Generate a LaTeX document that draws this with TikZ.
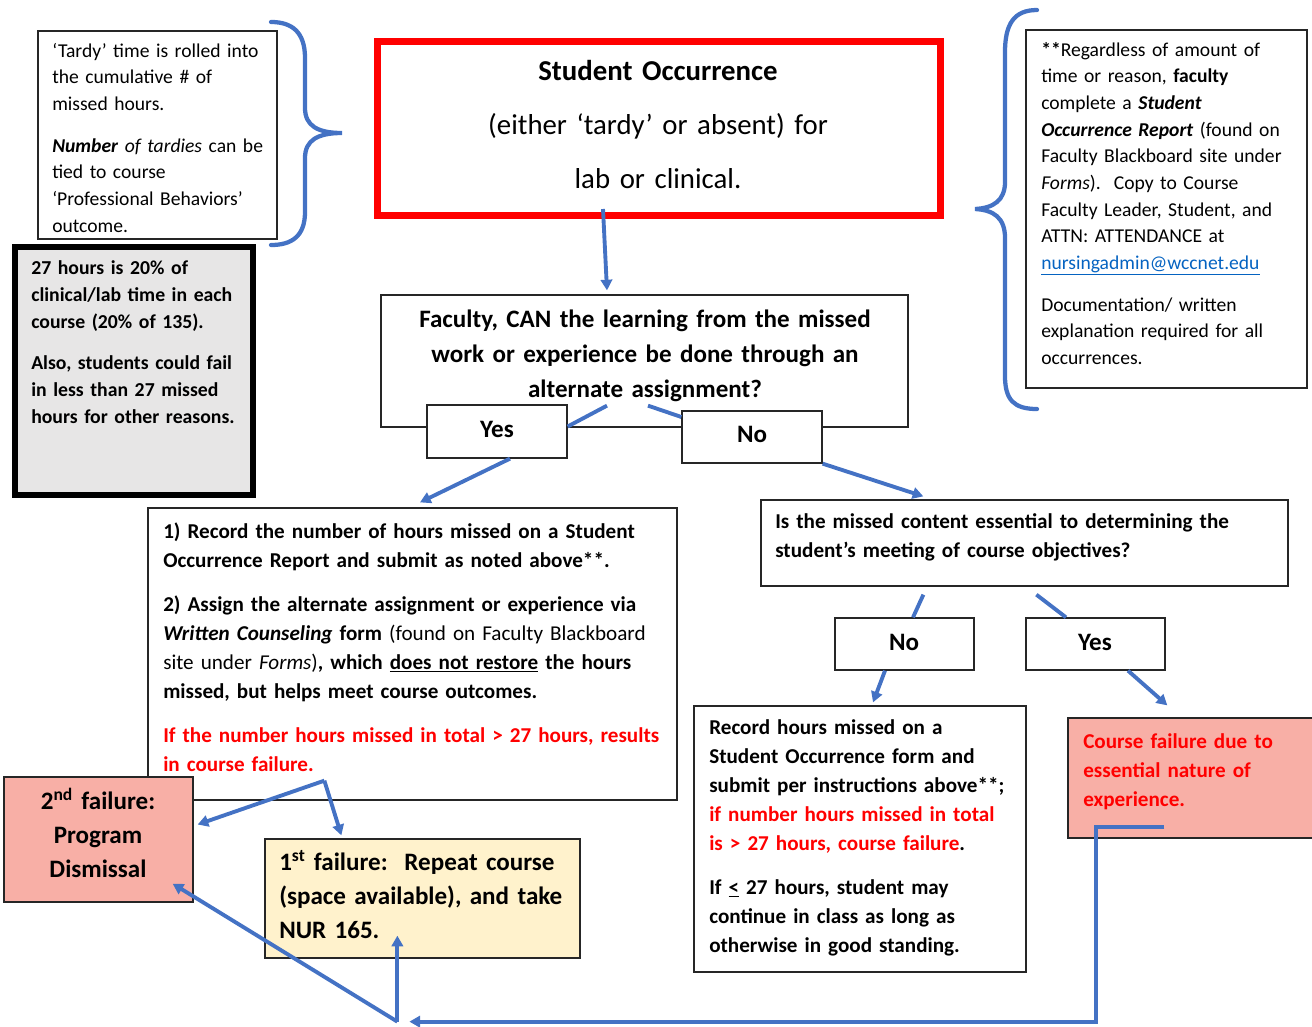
\documentclass[tikz,border=0pt]{standalone}
\usepackage{fontspec}
\setmainfont{Carlito}
\usetikzlibrary{arrows.meta,fit,calc}
\definecolor{arrowblue}{HTML}{4472C4}
\definecolor{salmon}{HTML}{F8AFA6}
\definecolor{paleyellow}{HTML}{FFF2CC}
\definecolor{panelgray}{HTML}{E7E6E6}
\definecolor{linkblue}{HTML}{0563C1}
\definecolor{alertred}{HTML}{FF0000}
\definecolor{edgegray}{HTML}{262626}
\begin{document}
\begin{tikzpicture}[x=0.75pt,y=-0.75pt,
  box/.style={draw=edgegray, line width=0.95pt, inner sep=0pt},
  ltxt/.style={inner sep=0pt, align=left, anchor=base west, text width=#1},
  ctxt/.style={inner sep=0pt, align=center, anchor=base, text width=#1},
  fsmall/.style={font=\fontsize{14.7pt}{20pt}\selectfont},
  fgray/.style={font=\fontsize{14.8pt}{20.25pt}\selectfont\bfseries},
  fmid/.style={font=\fontsize{15.85pt}{21.75pt}\selectfont\bfseries},
  fbig/.style={font=\fontsize{18.8pt}{25.5pt}\selectfont\bfseries},
  ffac/.style={font=\fontsize{18.8pt}{26.25pt}\selectfont\bfseries},
  fhuge/.style={font=\fontsize{21.6pt}{40.5pt}\selectfont},
  conn/.style={draw=arrowblue, line width=2.9pt},
  arr/.style={conn, -{Triangle[length=8pt,width=8.5pt]}},
  bracestyle/.style={draw=arrowblue, line width=3.2pt, line cap=round},
]
\useasboundingbox (0,0) rectangle (1312,1026);

% ---------- top-left note and brace
\node[box, fit={(38,31) (277,239)}] (tardyBox) {};
\node[ltxt=230pt, fsmall] (tardyText) at (52,57) {‘Tardy’ time is rolled into\\
the cumulative \# of\\
missed hours.\\[11.25pt]
\textbf{\textit{Number}} \textit{of tardies} can be\\
tied to course\\
‘Professional Behaviors’\\
outcome.};
\draw[bracestyle] (271,22) .. controls (292,22) and (305,32) .. (305,58) -- (305,108)
  .. controls (305,126) and (318,133) .. (342,133)
  .. controls (318,133) and (305,140) .. (305,158) -- (305,212)
  .. controls (305,236) and (292,245) .. (271,245);

% ---------- gray note
\node[draw=black, line width=4.5pt, fill=panelgray, inner sep=0pt, fit={(15,247) (253,495)}] (grayBox) {};
\node[ltxt=200pt, fgray] (grayText) at (31,274) {27 hours is 20\% of\\
clinical/lab time in each\\
course (20\% of 135).\\[10.5pt]
Also, students could fail\\
in less than 27 missed\\
hours for other reasons.};

% ---------- Student occurrence
\node[draw=alertred, line width=5.25pt, inner sep=0pt, fit={(377.5,41.5) (940.5,215.5)}] (occBox) {};
\node[ctxt=420pt, fhuge] (occText) at (658,80) {\textbf{Student Occurrence}\\
(either ‘tardy’ or absent) for\\
lab or clinical.};

% ---------- right note and brace
\node[box, fit={(1026,30) (1307,388)}] (faxBox) {};
\node[ltxt=205pt, fsmall] (faxText) at (1041,56) {\textbf{**}Regardless of amount of\\
time or reason, \textbf{faculty}\\
complete a \textbf{\textit{Student}}\\
\textbf{\textit{Occurrence Report}} (found on\\
Faculty Blackboard site under\\
\textit{Forms}).\ \ Copy to Course\\
Faculty Leader, Student, and\\
ATTN: ATTENDANCE at\\
\textcolor{linkblue}{\underline{nursingadmin@wccnet.edu}}\\[11.25pt]
Documentation/ written\\
explanation required for all\\
occurrences.};
\draw[bracestyle] (1037,10) .. controls (1014,10) and (1005,24) .. (1005,52) -- (1005,182)
  .. controls (1005,200) and (994,208) .. (975,209)
  .. controls (994,210) and (1005,218) .. (1005,238) -- (1005,376)
  .. controls (1005,400) and (1014,409) .. (1037,409);

% ---------- faculty question
\node[box, fit={(381,295) (908,427)}] (facBox) {};
\node[ctxt=390pt, ffac] (facText) at (645,327) {Faculty, CAN the learning from the missed\\
work or experience be done through an\\
alternate assignment?};
\node[box, fill=white, fit={(427,405) (567,458)}] (yesA) {};
\node[ctxt=80pt, fbig, anchor=base] (yesAText) at (497,437) {Yes};
\node[box, fill=white, fit={(682,411) (822,463)}] (noA) {};
\node[ctxt=80pt, fbig, anchor=base] (noAText) at (752,442) {No};

% ---------- yes branch
\node[box, fit={(148,508) (677,800)}] (recBox) {};
\node[ltxt=390pt, fmid] (recText) at (163,538) {1) Record the number of hours missed on a Student\\
Occurrence Report and submit as noted above**.\\[11.25pt]
2) Assign the alternate assignment or experience via\\
\textit{Written Counseling} form {\mdseries(found on Faculty Blackboard}\\
{\mdseries site under \textit{Forms})}, which \underline{does not restore} the hours\\
missed, but helps meet course outcomes.\\[11.25pt]
\textcolor{alertred}{If the number hours missed in total > 27 hours, results}\\
\textcolor{alertred}{in course failure.}};

% ---------- no branch
\node[box, fit={(761,500) (1288,586)}] (essBox) {};
\node[ltxt=380pt, fmid] (essText) at (775,528) {Is the missed content essential to determining the\\
student’s meeting of course objectives?};
\node[box, fill=white, fit={(835,618) (974,670)}] (noB) {};
\node[ctxt=80pt, fbig] (noBText) at (904,650) {No};
\node[box, fill=white, fit={(1026,618) (1165,670)}] (yesB) {};
\node[ctxt=80pt, fbig] (yesBText) at (1095,650) {Yes};

\node[box, fit={(694,706) (1026,972)}] (recB) {};
\node[ltxt=240pt, fmid] (recBText) at (709,734) {Record hours missed on a\\
Student Occurrence form and\\
submit per instructions above**;\\
\textcolor{alertred}{if number hours missed in total}\\
\textcolor{alertred}{is > 27 hours, course failure}.\\[11.25pt]
If \underline{<} 27 hours, student may\\
continue in class as long as\\
otherwise in good standing.};

\node[box, fill=salmon, fit={(1068,718) (1316,838)}] (failC) {};
\node[ltxt=170pt, fmid, text=alertred] (failCText) at (1083,748) {Course failure due to\\
essential nature of\\
experience.};

% ---------- failure outcomes
\node[box, fill=salmon, fit={(4,777) (193,902)}] (fail2) {};
\node[ctxt=130pt, fbig] (fail2Text) at (98,809) {2\textsuperscript{nd} failure:\\
Program\\
Dismissal};
\node[box, fill=paleyellow, fit={(265,839) (580,958)}] (fail1) {};
\node[ltxt=225pt, fbig] (fail1Text) at (279,870) {1\textsuperscript{st} failure:\ \ Repeat course\\
(space available), and take\\
NUR 165.};

% ---------- connectors
\draw[arr] ($(occBox.south)+(-56,-10)$) -- ($(facBox.north)+(-37.5,-4)$);
\draw[conn] ($(facBox.south)+(-37.5,-22)$) -- ($(yesA.east)+(0,-5)$);
\draw[conn] ($(facBox.south)+(3.5,-22)$) -- ($(noA.west)+(0,-20)$);
\draw[arr] ($(yesA.south)+(13,0)$) -- ($(recBox.north)+(7.5,-5)$);
\draw[arr] (noA.south east) -- ($(essBox.north west)+(163,-3)$);
\draw[conn] ($(essBox.south west)+(163,8)$) -- ($(noB.north)+(8.5,0)$);
\draw[conn] ($(essBox.south west)+(276,8)$) -- ($(yesB.north)+(-29.5,0)$);
\draw[arr] ($(noB.south)+(-19.5,0)$) -- ($(recB.north)+(13,-3)$);
\draw[arr] ($(yesB.south)+(32.5,0)$) -- ($(failC.north west)+(100,-12)$);

\coordinate (forkA) at ($(recBox.south west)+(177,-20)$);
\draw[arr] (forkA) -- ($(fail2.east)+(4,-15)$);
\draw[arr] (forkA) -- ($(fail1.north west)+(77,-3)$);

\coordinate (loopCorner) at ($(recB.south east)+(69,49)$);
\draw[arr] ($(failC.south west)+(97,-12)$) -| (loopCorner) -- ($(fail1.south west)+(145,63)$);
\coordinate (forkB) at ($(fail1.south west)+(133,63)$);
\draw[arr] (forkB) -- ($(fail1.south west)+(133,-23)$);
\draw[arr] (forkB) -- ($(fail2.south east)+(-21,-19)$);
\end{tikzpicture}
\end{document}
